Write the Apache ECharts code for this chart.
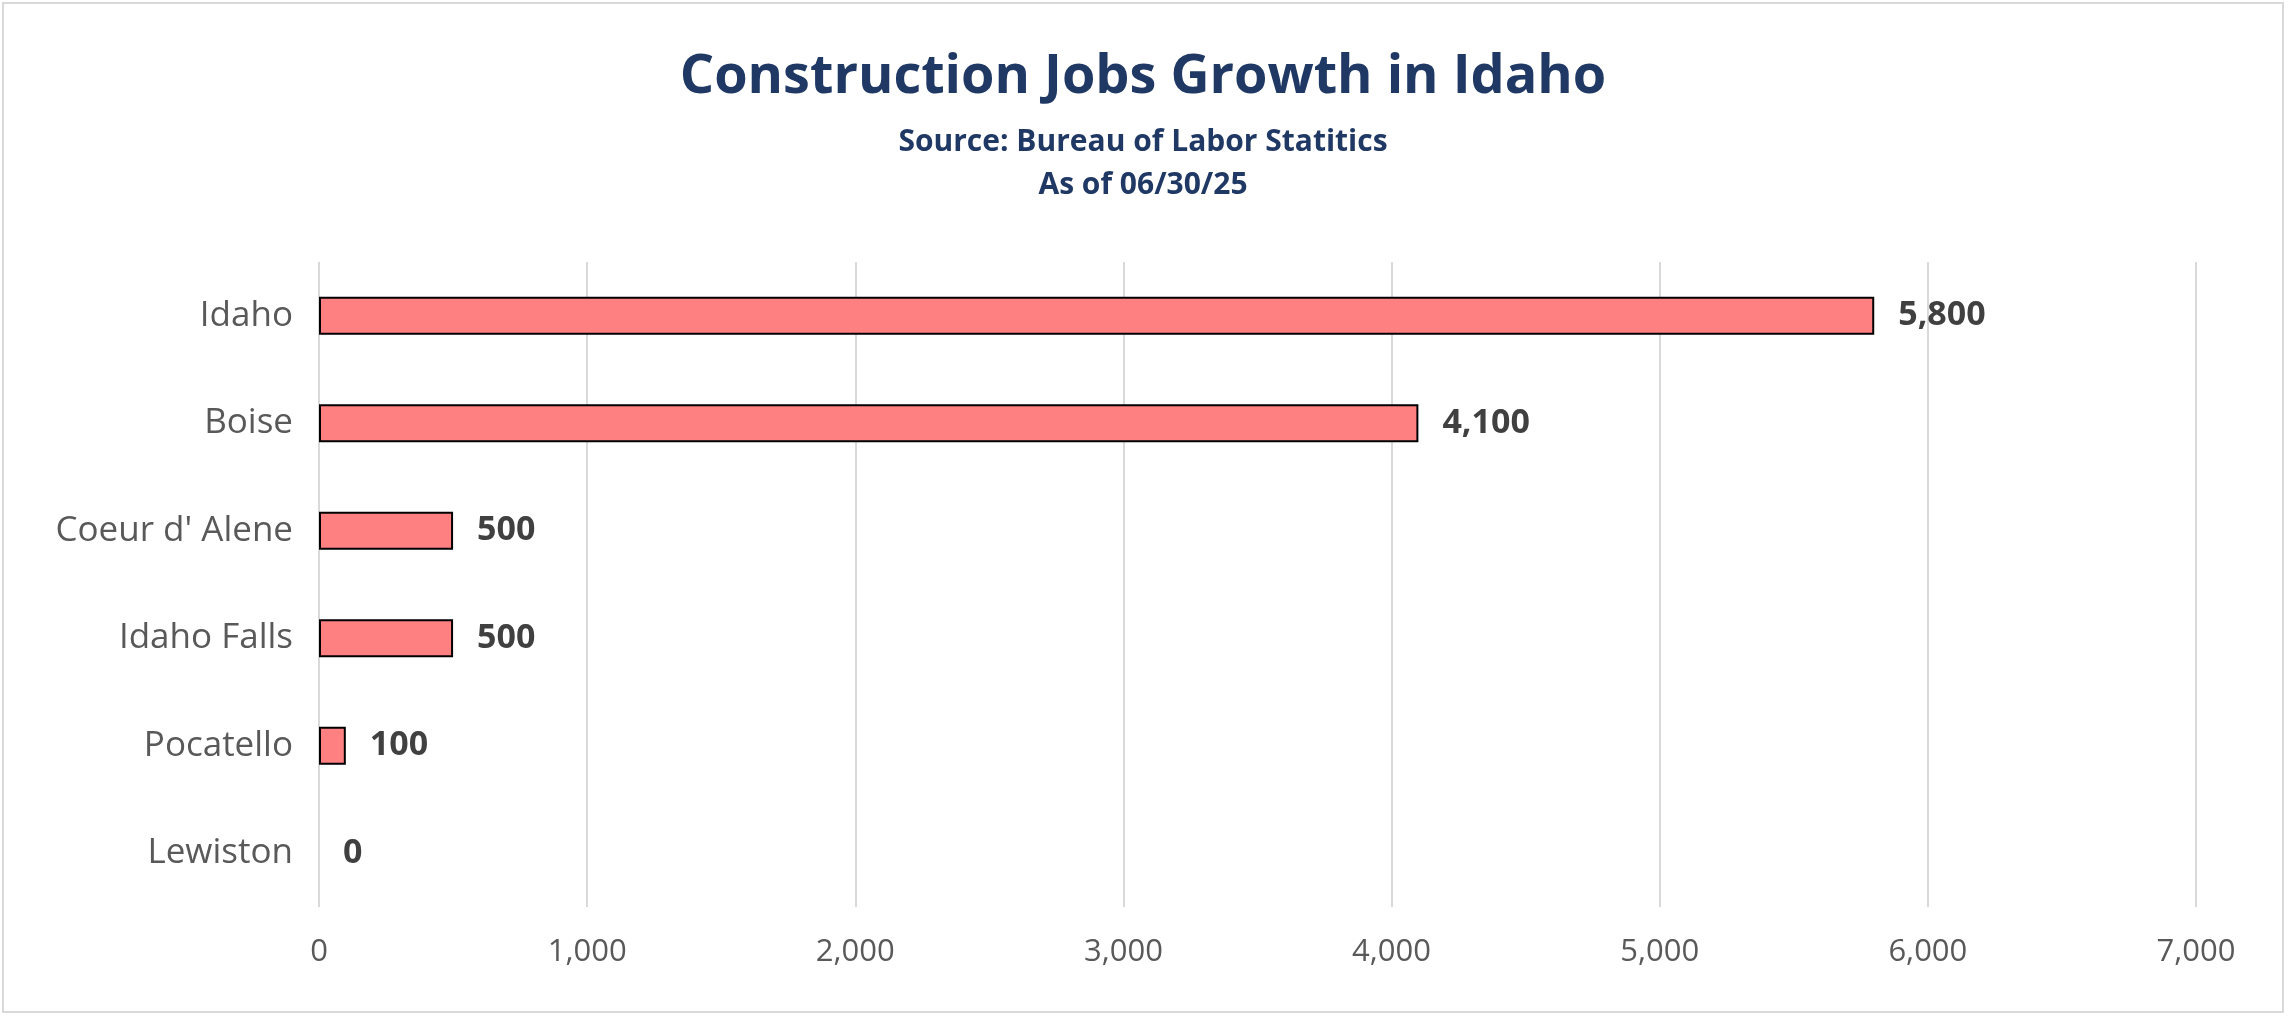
<!DOCTYPE html>
<html><head><meta charset="utf-8">
<script src="https://cdn.jsdelivr.net/npm/echarts@6/dist/echarts.min.js"></script>
<style>html,body{margin:0;padding:0;background:#fff}#c{position:absolute;left:2px;top:2px;width:2282px;height:1011px;border:2px solid #d9d9d9;box-sizing:border-box}</style>
</head><body><div id="c"></div>
<script>
const categories = ["Idaho","Boise","Coeur d' Alene","Idaho Falls","Pocatello","Lewiston"];
const values = [5800,4100,500,500,100,0];
const chart = echarts.init(document.getElementById('c'));
const F = "'Open Sans', 'Noto Sans', sans-serif";
chart.setOption({
  animation:false,
  title:[
    {text:'Construction Jobs Growth in Idaho',left:'center',top:42,textStyle:{fontFamily:F,fontSize:54,fontWeight:'bold',color:'#1f3864'}},
    {text:'Source: Bureau of Labor Statitics\nAs of 06/30/25',left:'center',top:112,textStyle:{fontFamily:F,fontSize:30,fontWeight:'bold',color:'#1f3864',lineHeight:43}}
  ],
  grid:{left:315,right:86,top:258,bottom:104,containLabel:false},
  xAxis:{type:'value',min:0,max:7000,interval:1000,
    axisLabel:{fontFamily:F,fontSize:31,color:'#595959',margin:30,formatter:v=>v.toLocaleString('en-US')},
    splitLine:{lineStyle:{color:'#d9d9d9',width:2}},axisLine:{show:false},axisTick:{show:false}},
  yAxis:{type:'category',inverse:true,data:categories,
    axisLabel:{fontFamily:F,fontSize:35,color:'#595959',margin:26},
    axisLine:{show:false},axisTick:{show:false}},
  series:[{type:'bar',barWidth:38,
    data:values.map(v=>({value:v,itemStyle:{borderWidth:v===0?0:2}})),
    itemStyle:{color:'#ff8080',borderColor:'#000',borderWidth:2},
    label:{show:true,position:'right',distance:24,fontFamily:F,fontSize:34,fontWeight:'bold',color:'#404040',
      formatter:p=>p.value.toLocaleString('en-US')}}]
});
</script></body></html>
